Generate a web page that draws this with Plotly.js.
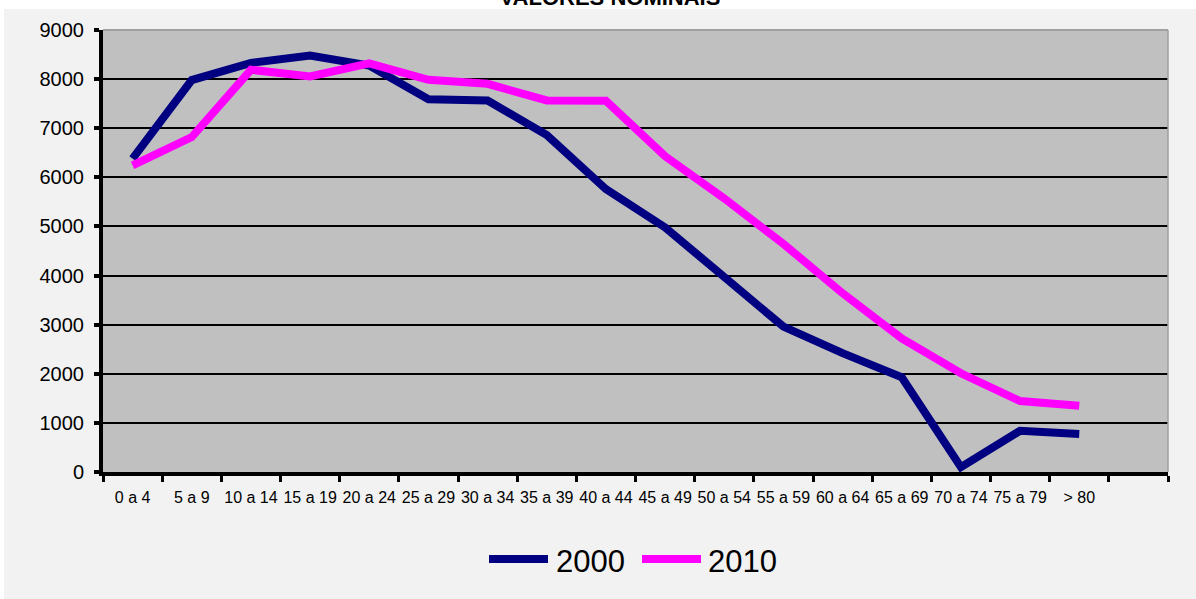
<!DOCTYPE html>
<html>
<head>
<meta charset="utf-8">
<script src="https://cdn.plot.ly/plotly-3.0.1.min.js"></script>
<style>html,body{margin:0;padding:0;background:#fff;}#chart{width:1196px;height:599px;}</style>
</head>
<body>
<div id="chart"></div>
<script>
var categories = ['0 a 4','5 a 9','10 a 14','15 a 19','20 a 24','25 a 29','30 a 34','35 a 39','40 a 44','45 a 49','50 a 54','55 a 59','60 a 64','65 a 69','70 a 74','75 a 79','> 80'];
var values2000 = [6380, 7980, 8330, 8480, 8275, 7590, 7565, 6860, 5760, 4980, 3970, 2960, 2420, 1930, 100, 840, 775];
var values2010 = [6245, 6820, 8190, 8055, 8320, 7985, 7905, 7565, 7560, 6430, 5570, 4645, 3640, 2720, 2010, 1445, 1350];
var seriesNames = ['2000', '2010'];
var seriesColors = ['#000080', '#FF00FF'];
var yTicks = [0,1000,2000,3000,4000,5000,6000,7000,8000,9000];

var W = 1196, H = 599;
var L = 103, R = 1168, T = 30, B = 472;
function px(x){ return (x - L) / (R - L); }
function py(y){ return (B - y) / (B - T); }

var traces = [
  {x: categories, y: values2000, name: seriesNames[0], type: 'scatter', mode: 'lines',
   line: {color: seriesColors[0], width: 8}, showlegend: false},
  {x: categories, y: values2010, name: seriesNames[1], type: 'scatter', mode: 'lines',
   line: {color: seriesColors[1], width: 8}, showlegend: false}
];

var shapes = [
  {type:'rect', xref:'paper', yref:'paper', x0: px(-5), x1: px(1200), y0: py(9), y1: py(-5), fillcolor:'#ffffff', line:{width:0}, layer:'below'},
  {type:'rect', xref:'paper', yref:'paper', x0: px(-5), x1: px(4), y0: py(605), y1: py(-5), fillcolor:'#ffffff', line:{width:0}, layer:'below'},
  {type:'line', xref:'paper', yref:'paper', x0: 0, x1: 1, y0: 1, y1: 1, line:{color:'#a0a0a0', width:2}, layer:'above'},
  {type:'line', xref:'paper', yref:'paper', x0: 1, x1: 1, y0: 0, y1: 1, line:{color:'#a0a0a0', width:1.5}, layer:'above'}
];

var legendLines = [[489, 548, 555], [642, 701, 707]];
var annotations = [];
for (var i = 0; i < seriesNames.length; i++) {
  var lg = legendLines[i];
  shapes.push({type:'line', xref:'paper', yref:'paper', x0: px(lg[0]), x1: px(lg[1]), y0: py(559), y1: py(559),
    line:{color: seriesColors[i], width: 8}});
  annotations.push({xref:'paper', yref:'paper', x: px(lg[2]), y: py(561), xanchor:'left', yanchor:'middle',
    text: seriesNames[i], showarrow:false, borderpad:0,
    font:{family:'Liberation Sans, Arial, sans-serif', size:31, color:'#000'}});
}

var layout = {
  width: W, height: H,
  paper_bgcolor: '#f2f2f2',
  plot_bgcolor: '#c0c0c0',
  margin: {l: L, r: W - R, t: T, b: H - B},
  showlegend: false,
  title: {text: '<b>VALORES NOMINAIS</b>', x: 610 / W, xanchor: 'center', xref: 'container',
          y: 1 - 5 / H, yref: 'container', yanchor: 'bottom',
          font: {family: 'Liberation Sans, Arial, sans-serif', size: 22, color: '#000'}},
  xaxis: {
    type: 'category',
    categoryorder: 'array',
    categoryarray: categories.concat([' ']),
    range: [-0.5, categories.length + 0.5],
    tickson: 'boundaries',
    tickangle: 0,
    ticks: 'outside', ticklen: 6, tickwidth: 3, tickcolor: '#000',
    showline: true, linecolor: '#000', linewidth: 4,
    showgrid: false, zeroline: false,
    ticklabelstandoff: 8,
    tickfont: {family: 'Liberation Sans, Arial, sans-serif', size: 16, color: '#000'},
    fixedrange: true
  },
  yaxis: {
    range: [0, 9000],
    tickmode: 'array', tickvals: yTicks, ticktext: yTicks.map(String),
    ticks: 'outside', ticklen: 5, tickwidth: 4, tickcolor: '#000',
    showline: true, linecolor: '#000', linewidth: 4,
    showgrid: true, gridcolor: '#000', gridwidth: 2,
    zeroline: false,
    ticklabelstandoff: 6,
    tickfont: {family: 'Liberation Sans, Arial, sans-serif', size: 20, color: '#000'},
    fixedrange: true
  },
  shapes: shapes,
  annotations: annotations
};

Plotly.newPlot('chart', traces, layout, {displayModeBar: false, staticPlot: true});
</script>
</body>
</html>
